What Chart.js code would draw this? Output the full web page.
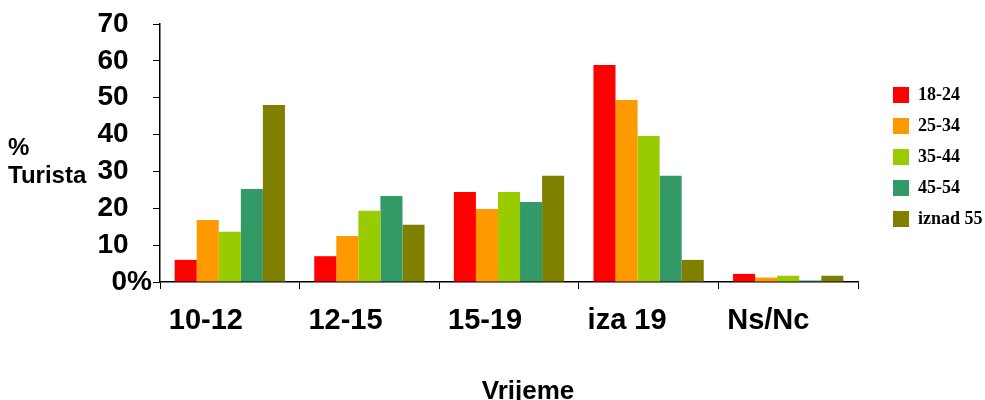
<!DOCTYPE html>
<html>
<head>
<meta charset="utf-8">
<script src="https://cdn.jsdelivr.net/npm/chart.js@4/dist/chart.umd.min.js"></script>
<style>
  html, body { margin: 0; padding: 0; background: #fff; }
  #wrap { width: 985px; height: 400px; }
</style>
</head>
<body>
<div id="wrap"><canvas id="c" width="985" height="400"></canvas></div>
<script>
// Time of day categories
const categories = ['10-12', '12-15', '15-19', 'iza 19', 'Ns/Nc'];

// Share of tourists (%) per age group
const ageGroups = ['18-24', '25-34', '35-44', '45-54', 'iznad 55'];
const age18_24 = [6.0, 7.0, 24.4, 58.9, 2.2];
const age25_34 = [16.8, 12.5, 19.8, 49.4, 1.2];
const age35_44 = [13.6, 19.3, 24.4, 39.6, 1.7];
const age45_54 = [25.2, 23.3, 21.7, 28.8, 0.4];
const age55plus = [48.0, 15.5, 28.8, 6.0, 1.7];

// Y tick values
const yTicks = [0, 10, 20, 30, 40, 50, 60, 70];

const colors = ['#FF0000', '#FF9900', '#99CC00', '#339966', '#808000'];
const seriesValues = [age18_24, age25_34, age35_44, age45_54, age55plus];

const datasets = ageGroups.map((name, i) => ({
  label: name,
  data: seriesValues[i],
  backgroundColor: colors[i],
  borderWidth: 0,
  yAxisID: 'y',
  categoryPercentage: 0.79,
  barPercentage: 1.0
}));

// Axis captions drawn on the canvas
const captions = {
  id: 'captions',
  afterDraw(chart) {
    const ctx = chart.ctx;
    ctx.save();
    ctx.fillStyle = '#000';
    ctx.textAlign = 'left';
    ctx.textBaseline = 'alphabetic';
    ctx.font = 'bold 24px "Liberation Sans", Arial, sans-serif';
    ctx.fillText('%', 8, 155);
    ctx.fillText('Turista', 8, 183);
    ctx.textAlign = 'center';
    ctx.font = 'bold 26px "Liberation Sans", Arial, sans-serif';
    ctx.fillText('Vrijeme', 528, 399);
    ctx.restore();
  }
};

new Chart(document.getElementById('c'), {
  type: 'bar',
  data: { labels: categories, datasets },
  plugins: [captions],
  options: {
    responsive: false,
    animation: false,
    layout: { padding: { left: 90, right: 2, top: 24, bottom: 38 } },
    plugins: {
      tooltip: { enabled: false },
      legend: {
        position: 'right',
        align: 'center',
        fullSize: false,
        maxWidth: 103,
        title: { display: true, text: ' ', font: { size: 8, lineHeight: 1 }, padding: 0 },
        labels: {
          boxWidth: 16,
          boxHeight: 16,
          padding: 13,
          color: '#000',
          font: { family: '"Liberation Serif", "Times New Roman", serif', weight: 'bold', size: 18 }
        }
      }
    },
    scales: {
      x: {
        offset: true,
        grid: { display: true, drawOnChartArea: false, offset: true, tickLength: 7, color: '#000', lineWidth: 1 },
        border: { display: true, color: '#000', width: 1.5 },
        ticks: {
          color: '#000',
          padding: 15,
          align: 'start',
          labelOffset: -61,
          maxRotation: 0,
          autoSkip: false,
          font: { family: '"Liberation Sans", Arial, sans-serif', weight: 'bold', size: 29 }
        },
        afterFit(scale) { scale.height = 80; }
      },
      y: {
        min: 0,
        max: 70,
        position: 'left',
        afterBuildTicks(scale) { scale.ticks = yTicks.map(v => ({ value: v })); },
        grid: { display: true, drawOnChartArea: false, tickLength: 7, color: '#000', lineWidth: 1 },
        border: { display: true, color: '#000', width: 1.5 },
        ticks: {
          color: '#000',
          padding: 1,
          font: { family: '"Liberation Sans", Arial, sans-serif', weight: 'bold', size: 28 },
          callback: v => (v === 0 ? '0%' : v + '   ')
        },
        afterFit(scale) { scale.width = 70; }
      },
      gap: {
        type: 'linear',
        position: 'right',
        display: true,
        grid: { display: false },
        border: { display: false },
        ticks: { display: false },
        afterFit(scale) { scale.width = 22; }
      }
    }
  }
});
</script>
</body>
</html>
